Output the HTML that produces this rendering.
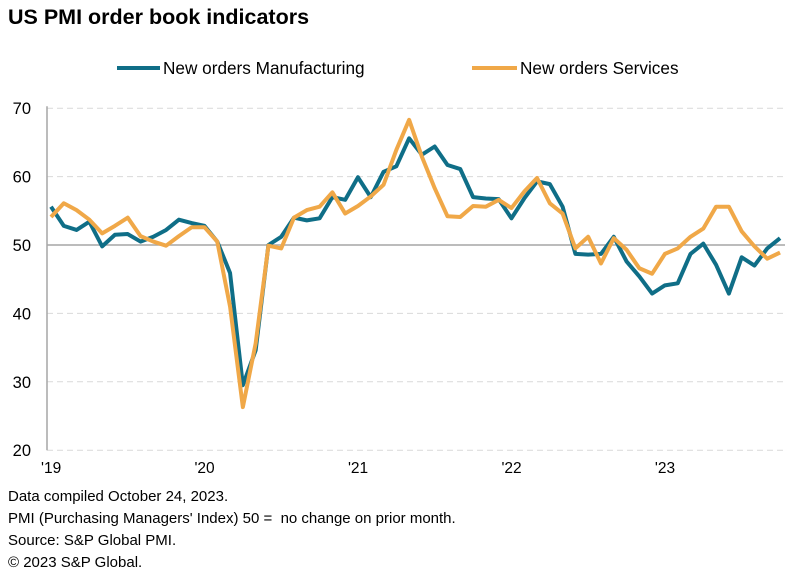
<!DOCTYPE html>
<html><head><meta charset="utf-8"><style>
body{margin:0;width:787px;height:582px;background:#fff;font-family:"Liberation Sans",Arial,sans-serif;overflow:hidden;position:relative}
.t{position:absolute;color:#000;white-space:nowrap}
</style></head><body>
<div class="t" style="left:8px;top:5px;font-size:21.5px;font-weight:bold">US PMI order book indicators</div>
<svg id="c" width="787" height="582" style="position:absolute;left:0;top:0"></svg>
<div class="t" style="left:8px;top:488px;font-size:15px">Data compiled October 24, 2023.</div>
<div class="t" style="left:8px;top:510px;font-size:15px">PMI (Purchasing Managers' Index) 50 =&nbsp; no change on prior month.</div>
<div class="t" style="left:8px;top:532px;font-size:15px">Source: S&amp;P Global PMI.</div>
<div class="t" style="left:8px;top:554px;font-size:15px">© 2023 S&amp;P Global.</div>
<script>
const yTicks=[20,30,40,50,60,70];
const xLabels=["'19","'20","'21","'22","'23"];
const manufacturing=[55.6,52.8,52.2,53.4,49.8,51.5,51.6,50.5,51.2,52.2,53.7,53.2,52.8,50.5,45.9,29.5,34.6,50,51.2,54,53.6,53.9,57,56.6,59.9,57,60.7,61.5,65.6,63.2,64.4,61.7,61.1,57,56.8,56.7,53.9,56.8,59.3,58.9,55.6,48.7,48.6,48.7,51.2,47.6,45.4,42.9,44.1,44.4,48.7,50.2,47.1,42.9,48.2,47,49.5,51];
const services=[54.1,56.1,55.1,53.7,51.7,52.8,54,51.3,50.5,49.9,51.3,52.6,52.6,50.5,41,26.3,35.6,49.9,49.5,54,55.1,55.6,57.7,54.6,55.7,57.1,58.8,63.9,68.3,62.9,58.3,54.2,54.1,55.7,55.6,56.6,55.4,57.8,59.8,56.1,54.6,49.5,51.2,47.3,51,49.3,46.6,45.8,48.7,49.5,51.2,52.4,55.6,55.6,52,49.8,48,48.9];
const svg=document.getElementById('c');const NS='http://www.w3.org/2000/svg';
const x0=51,dx=12.79,left=47,right=785;
const X=i=>x0+i*dx;
const Y=v=>245-(v-50)*6.84;
function el(t,a,p){const e=document.createElementNS(NS,t);for(const k in a)e.setAttribute(k,a[k]);(p||svg).appendChild(e);return e;}
yTicks.forEach(v=>{
 const g=el('line',{x1:left,x2:right,y1:Y(v),y2:Y(v),stroke:v===50?'#a6a6a6':'#d9d9d9','stroke-width':v===50?1.5:1,'stroke-dasharray':v===50?'':'6,4'});
 
 
 const t=el('text',{x:31,y:Y(v)+6,'text-anchor':'end','font-size':16.5,fill:'#000'});t.textContent=v;
 
 
});
const ax=el('line',{x1:left,x2:left,y1:Y(70)-2,y2:Y(20),stroke:'#a6a6a6','stroke-width':1.5});


xLabels.forEach((l,k)=>{
 const t=el('text',{x:X(k*12)-10,y:473,'font-size':15.5,fill:'#000'});t.textContent=l;
 
 
});
function line(d,c,n){const p=el('polyline',{points:d.map((v,i)=>X(i)+','+Y(v)).join(' '),fill:'none',stroke:c,'stroke-width':4,'stroke-linejoin':'round'});
 
 }
line(manufacturing,'#0f6e87','line-manufacturing');
line(services,'#f0a848','line-services');
const l1=el('line',{x1:117,x2:160,y1:68,y2:68,stroke:'#0f6e87','stroke-width':4});


const t1=el('text',{x:163,y:74,'font-size':17.2,fill:'#000'});t1.textContent='New orders Manufacturing';


const l2=el('line',{x1:472,x2:517,y1:68,y2:68,stroke:'#f0a848','stroke-width':4});


const t2=el('text',{x:520,y:74,'font-size':17.2,fill:'#000'});t2.textContent='New orders Services';


</script>
</body></html>
